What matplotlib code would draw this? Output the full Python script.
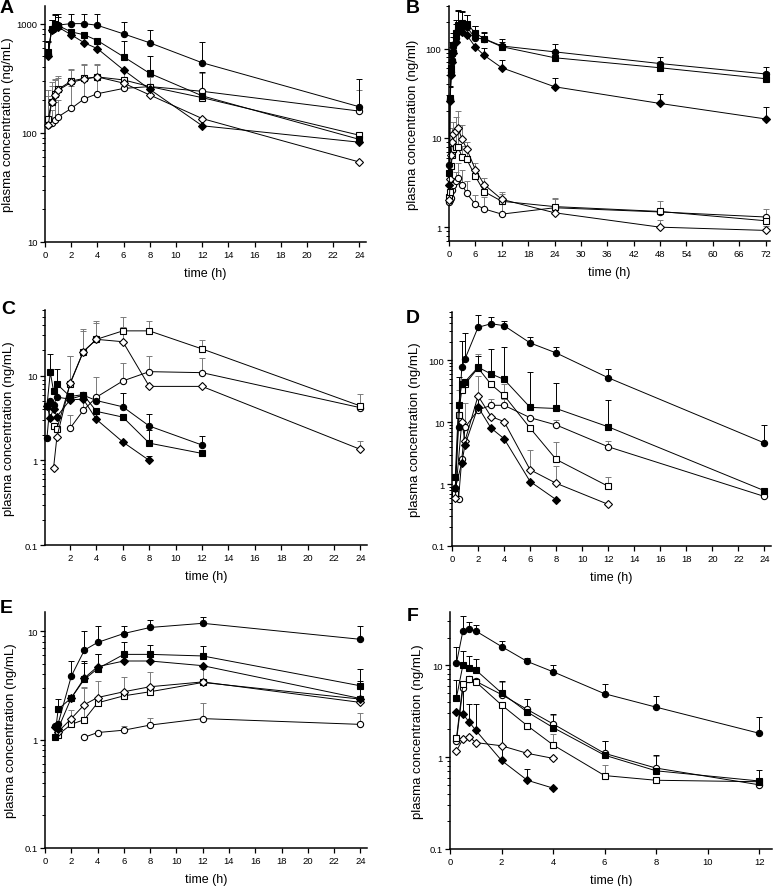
import numpy as np
import matplotlib
matplotlib.use("Agg")
import matplotlib.pyplot as plt
from matplotlib.ticker import FuncFormatter, LogLocator, NullFormatter

plt.rcParams['font.family'] = ['Liberation Sans', 'DejaVu Sans']

# ---------------- Panel A ----------------
tA = [0.25, 0.5, 0.75, 1, 2, 3, 4, 6, 8, 12, 24]
A_fc = [530, 880, 980, 970, 1000, 1000, 965, 805, 667, 438, 173]
A_fc_sd = [150, 200, 250, 250, 230, 230, 260, 220, 200, 240, 135]
A_fs = [550, 890, 1000, 960, 840, 790, 700, 497, 350, 218, 87]
A_fs_sd = [150, 200, 200, 200, 0, 0, 0, 190, 150, 140, 0]
A_fd = [510, 880, 920, 930, 790, 667, 590, 376, 250, 116, 82]
A_fd_sd = [0, 0, 0, 0, 0, 0, 0, 0, 0, 0, 0]
A_oc = [118, 122, 130, 140, 167, 205, 228, 255, 265, 240, 158]
A_oc_sd = [0, 40, 60, 60, 100, 110, 100, 60, 0, 110, 90]
A_os = [135, 193, 225, 250, 298, 315, 325, 305, 265, 210, 95]
A_os_sd = [110, 100, 80, 80, 90, 100, 90, 60, 60, 0, 0]
A_od = [118, 190, 220, 245, 290, 310, 325, 285, 222, 135, 54]
A_od_sd = [100, 80, 90, 70, 90, 120, 100, 0, 0, 0, 0]

# ---------------- Panel B ----------------
tB = [0.083, 0.25, 0.5, 0.75, 1, 1.5, 2, 3, 4, 6, 8, 12, 24, 48, 72]
B_fc = [5, 27, 55, 75, 95, 130, 165, 175, 175, 131, 129, 107, 92, 68, 52]
B_fc_sd = [0, 10, 20, 30, 40, 60, 100, 80, 60, 50, 25, 20, 20, 12, 11]
B_fs = [4, 28, 60, 90, 110, 150, 182, 195, 190, 150, 128, 105, 79, 61, 46]
B_fs_sd = [0, 10, 20, 30, 40, 60, 90, 70, 50, 30, 20, 15, 15, 10, 8]
B_fd = [3, 26, 50, 70, 90, 120, 153, 155, 143, 104, 84, 61, 37.4, 24.3, 16.3]
B_fd_sd = [0, 0, 0, 0, 0, 0, 0, 0, 0, 0, 18, 13, 9, 7, 6]
B_oc = [1.9, 2.0, 2.1, 2.6, 3.0, 3.3, 3.6, 3.0, 2.4, 1.8, 1.6, 1.4, 1.65, 1.48, 1.3]
B_oc_sd = [0, 0, 0, 0.5, 0.6, 0.8, 1.7, 1.4, 0.9, 0.5, 0.6, 0.5, 0, 0, 0]
B_os = [2.2, 2.5, 4.8, 6.5, 7.5, 8.0, 8.0, 6.1, 5.8, 3.7, 2.5, 1.95, 1.7, 1.5, 1.18]
B_os_sd = [0, 0.5, 2, 3, 4, 5, 5, 2, 1.5, 0.8, 0.5, 0.4, 0.4, 0.45, 0.4]
B_od = [2.0, 3.5, 6.5, 9.0, 11.0, 12.0, 13.0, 9.6, 7.6, 4.4, 3.0, 2.05, 1.45, 1.0, 0.92]
B_od_sd = [0, 0, 3, 4, 4, 5, 7, 4.5, 1.5, 0.8, 0.6, 0.45, 0.6, 0.2, 0.1]

# ---------------- Panel C ----------------
tC_f = [0.25, 0.5, 0.75, 1, 2, 3, 4, 6, 8, 12]
C_fc = [1.85, 5.1, 4.5, 5.6, 5.3, 5.9, 5.1, 4.3, 2.55, 1.52]
C_fc_sd = [0, 0, 0, 0, 0, 0, 0, 2.0, 0.95, 0.4]
C_fs = [4.4, 11.0, 6.6, 8.0, 5.7, 6.0, 3.8, 3.25, 1.6, 1.21]
C_fs_sd = [0, 7, 0, 4, 0, 0, 0, 0, 0.7, 0]
tC_fd = [0.25, 0.5, 0.75, 1, 2, 3, 4, 6, 8]
C_fd = [4.4, 3.2, 4.1, 3.3, 5.2, 5.3, 3.05, 1.65, 1.0]
C_fd_sd = [0, 0, 0, 0, 0, 0, 0, 0, 0.12]
tC_o = [0.75, 1, 2, 3, 4, 6, 8, 12, 24]
C_os = [2.54, 2.36, 8.0, 19.3, 27, 34, 34, 20.8, 4.4]
C_os_sd = [0, 0, 9, 15, 18, 15, 11, 6, 1.7]
C_od = [0.82, 1.87, 8.2, 19.3, 27, 25.3, 7.5, 7.5, 1.35]
C_od_sd = [0, 0, 9, 16, 15, 12, 0, 0, 0.35]
tC_oc = [2, 3, 4, 6, 8, 12, 24]
C_oc = [2.4, 3.9, 5.6, 8.7, 11.2, 10.9, 4.2]
C_oc_sd = [1.0, 2.0, 4.2, 5.3, 6.0, 5.3, 0]

# ---------------- Panel D ----------------
tD = [0.25, 0.5, 0.75, 1, 2, 3, 4, 6, 8, 12, 24]
D_fc = [0.87, 8.4, 77, 105, 339, 388, 361, 190, 131, 52, 4.6]
D_fc_sd = [0, 0, 130, 175, 200, 110, 70, 44, 31, 21, 4.3]
D_fs = [1.3, 18.7, 41, 45, 77, 60, 49, 17.3, 16.6, 8.4, 0.78]
D_fs_sd = [0, 35, 0, 0, 40, 90, 114, 47, 27, 14, 0]
tD_fd = [0.25, 0.75, 1, 2, 3, 4, 6, 8]
D_fd = [0.85, 2.2, 4.3, 17.6, 8.0, 5.4, 1.1, 0.56]
D_fd_sd = [0, 0, 0, 10, 0, 0, 0, 0]
tD_os = [0.25, 0.5, 0.75, 1, 2, 3, 4, 6, 8, 12]
D_os = [0.7, 13.2, 33, 41, 75, 40.6, 27, 8.0, 2.5, 0.92]
D_os_sd = [0, 20, 0, 0, 49, 0, 15, 0, 2.2, 0.36]
D_oc = [0.62, 0.57, 2.5, 8.2, 15.7, 18.7, 18.7, 11.8, 9.0, 4.0, 0.63]
D_oc_sd = [0, 0, 0, 12, 12, 5.3, 5, 0, 2, 1.0, 0]
tD_od = [0.25, 0.75, 1, 2, 3, 4, 6, 8, 12]
D_od = [0.6, 10, 5.0, 26.5, 12.3, 10.2, 1.7, 1.03, 0.47]
D_od_sd = [0, 0, 0, 30, 0, 0, 1.8, 0.9, 0]

# ---------------- Panel E ----------------
tE_f = [0.75, 1, 2, 3, 4, 6, 8, 12, 24]
E_fc = [1.33, 1.4, 3.84, 6.68, 7.86, 9.5, 10.8, 11.8, 8.4]
E_fc_sd = [0, 0, 1.5, 3.3, 3.3, 1.7, 1.8, 1.8, 2.7]
E_fs = [1.06, 1.9, 2.42, 3.6, 4.5, 6.1, 6.1, 5.9, 3.13]
E_fs_sd = [0, 0.46, 0, 1.5, 1.7, 1.9, 1.3, 1.4, 1.3]
E_fd = [1.3, 1.26, 2.42, 3.7, 4.7, 5.3, 5.3, 4.8, 2.39]
E_fd_sd = [0, 0, 0, 1.6, 1.5, 0, 0, 0, 1.1]
tE_o = [1, 2, 3, 4, 6, 8, 12, 24]
E_od = [1.18, 1.56, 2.1, 2.44, 2.76, 3.07, 3.4, 2.2]
E_od_sd = [0, 0.3, 0.9, 1.0, 1.0, 1.1, 1.1, 0]
E_os = [1.11, 1.38, 1.53, 2.18, 2.53, 2.76, 3.36, 2.36]
E_os_sd = [0, 0, 1.5, 0, 0, 0, 0, 0]
tE_oc = [3, 4, 6, 8, 12, 24]
E_oc = [1.05, 1.16, 1.22, 1.36, 1.56, 1.38]
E_oc_sd = [0, 0, 0.1, 0.22, 0.6, 0.37]

# ---------------- Panel F ----------------
tF = [0.25, 0.5, 0.75, 1, 2, 3, 4, 6, 8, 12]
F_fc = [10.5, 23.6, 25, 23.6, 16, 11, 8.5, 4.9, 3.5, 1.82]
F_fc_sd = [5.5, 10.8, 4.8, 3.6, 2.4, 1.0, 1.6, 1.3, 1.1, 0.9]
F_fs = [4.45, 10, 9.4, 8.9, 5.0, 3.1, 2.1, 1.05, 0.71, 0.55]
F_fs_sd = [2.5, 4.3, 3.2, 2.9, 1.8, 1.2, 0.83, 0.45, 0.35, 0.18]
tF_d = [0.25, 0.5, 0.75, 1, 2, 3, 4]
F_fd = [3.1, 2.95, 2.4, 1.96, 0.92, 0.56, 0.46]
F_fd_sd = [0, 2.5, 1.4, 1.8, 2.8, 0.18, 0]
F_oc = [1.5, 5.6, 7.0, 6.7, 4.8, 3.3, 2.3, 1.1, 0.76, 0.5]
F_oc_sd = [0, 0, 0, 0, 1.8, 1.0, 0.6, 0.4, 0.27, 0]
F_os = [1.6, 6.2, 7.0, 6.6, 3.7, 2.2, 1.36, 0.63, 0.56, 0.54]
F_os_sd = [0, 0, 0, 0, 0, 0, 0.42, 0.19, 0, 0]
F_od = [1.17, 1.57, 1.66, 1.44, 1.33, 1.1, 0.97]
F_od_sd = [0, 0, 0, 0, 0, 0, 0]

W, H = 773, 887
fig = plt.figure(figsize=(W / 100, H / 100), dpi=100)


def add_axes(px_left, px_right, px_top, px_bottom):
    return fig.add_axes([px_left / W, 1 - px_bottom / H,
                         (px_right - px_left) / W, (px_bottom - px_top) / H])


MS = {'o': 4.5, 's': 4.1, 'D': 4.0}


def series(ax, t, y, sd, marker, filled):
    t = np.asarray(t, float)
    y = np.asarray(y, float)
    sd = np.asarray(sd, float)
    ecol = 'black' if filled else '#7a7a7a'
    m = sd > 0
    if m.any():
        ax.errorbar(t[m], y[m], yerr=[np.zeros(m.sum()), sd[m]], fmt='none',
                    ecolor=ecol, elinewidth=0.7, capsize=2.2, capthick=0.7,
                    zorder=1)
    ax.plot(t, y, '-', color='black', lw=0.7, marker=marker, ms=MS[marker],
            mfc='black' if filled else 'white', mec='black', mew=0.8,
            zorder=3, clip_on=False)


def style(ax, xlim, xticks, ylim, ylabel, letter, lx, ly, label_x):
    ax.set_yscale('log')
    ax.set_xlim(*xlim)
    ax.set_ylim(*ylim)
    ax.set_xticks(xticks)
    ax.yaxis.set_major_locator(LogLocator(base=10, numticks=10))
    ax.yaxis.set_minor_locator(LogLocator(base=10, subs=np.arange(2, 10), numticks=20))
    ax.yaxis.set_major_formatter(FuncFormatter(lambda v, p: '%g' % v))
    ax.yaxis.set_minor_formatter(NullFormatter())
    for s in ['top', 'right']:
        ax.spines[s].set_visible(False)
    for s in ['left', 'bottom']:
        ax.spines[s].set_linewidth(1.1)
    ax.tick_params(axis='both', which='major', direction='out', length=3.5,
                   width=0.9, labelsize=6.8, pad=2)
    ax.tick_params(axis='y', which='minor', direction='out', length=2, width=0.7)
    ax.set_xlabel('time (h)', fontsize=9, labelpad=6)
    ax.set_ylabel(ylabel, fontsize=9.5)
    # place the y label so its centre sits at the reference pixel column
    x0 = ax.get_position().x0 * W
    wpx = ax.get_position().width * W
    ax.yaxis.set_label_coords((label_x + 5 - x0) / wpx, 0.5)
    fig.text(lx / W, 1 - ly / H, letter, fontsize=14, fontweight='bold',
             ha='left', va='top')


ylab = 'plasma concentration (ng/mL)'

# A
ax = add_axes(45, 366, 7, 243)
series(ax, tA, A_oc, A_oc_sd, 'o', False)
series(ax, tA, A_os, A_os_sd, 's', False)
series(ax, tA, A_od, A_od_sd, 'D', False)
series(ax, tA, A_fc, A_fc_sd, 'o', True)
series(ax, tA, A_fs, A_fs_sd, 's', True)
series(ax, tA, A_fd, A_fd_sd, 'D', True)
style(ax, (0, 24.5), range(0, 25, 2), (10, 1450), ylab, 'A', 0, 0, 9)

# B
ax = add_axes(449, 770, 7, 242)
series(ax, tB, B_oc, B_oc_sd, 'o', False)
series(ax, tB, B_os, B_os_sd, 's', False)
series(ax, tB, B_od, B_od_sd, 'D', False)
series(ax, tB, B_fc, B_fc_sd, 'o', True)
series(ax, tB, B_fs, B_fs_sd, 's', True)
series(ax, tB, B_fd, B_fd_sd, 'D', True)
style(ax, (0, 73), range(0, 73, 6), (0.7, 300),
      'plasma concentration (ng/ml)', 'B', 406, 0, 414)

# C
ax = add_axes(45, 367, 311, 546)
series(ax, tC_oc, C_oc, C_oc_sd, 'o', False)
series(ax, tC_o, C_os, C_os_sd, 's', False)
series(ax, tC_o, C_od, C_od_sd, 'D', False)
series(ax, tC_f, C_fc, C_fc_sd, 'o', True)
series(ax, tC_f, C_fs, C_fs_sd, 's', True)
series(ax, tC_fd, C_fd, C_fd_sd, 'D', True)
style(ax, (0.1, 24.5), range(2, 25, 2), (0.1, 60), ylab, 'C', 1, 301, 10)

# D
ax = add_axes(452, 771, 313, 547)
series(ax, tD, D_oc, D_oc_sd, 'o', False)
series(ax, tD_os, D_os, D_os_sd, 's', False)
series(ax, tD_od, D_od, D_od_sd, 'D', False)
series(ax, tD, D_fc, D_fc_sd, 'o', True)
series(ax, tD, D_fs, D_fs_sd, 's', True)
series(ax, tD_fd, D_fd, D_fd_sd, 'D', True)
style(ax, (0, 24.5), range(0, 25, 2), (0.1, 600), ylab, 'D', 406, 310, 416)

# E
ax = add_axes(45, 367, 613, 849)
series(ax, tE_oc, E_oc, E_oc_sd, 'o', False)
series(ax, tE_o, E_os, E_os_sd, 's', False)
series(ax, tE_o, E_od, E_od_sd, 'D', False)
series(ax, tE_f, E_fc, E_fc_sd, 'o', True)
series(ax, tE_f, E_fs, E_fs_sd, 's', True)
series(ax, tE_f, E_fd, E_fd_sd, 'D', True)
style(ax, (0, 24.5), range(0, 25, 2), (0.1, 15), ylab, 'E', 0, 600, 12)

# F
ax = add_axes(450, 772, 613, 850)
series(ax, tF, F_oc, F_oc_sd, 'o', False)
series(ax, tF, F_os, F_os_sd, 's', False)
series(ax, tF_d, F_od, F_od_sd, 'D', False)
series(ax, tF, F_fc, F_fc_sd, 'o', True)
series(ax, tF, F_fs, F_fs_sd, 's', True)
series(ax, tF_d, F_fd, F_fd_sd, 'D', True)
style(ax, (0, 12.5), range(0, 13, 2), (0.1, 38), ylab, 'F', 407, 608, 419)

fig.savefig('out.png', dpi=100)
